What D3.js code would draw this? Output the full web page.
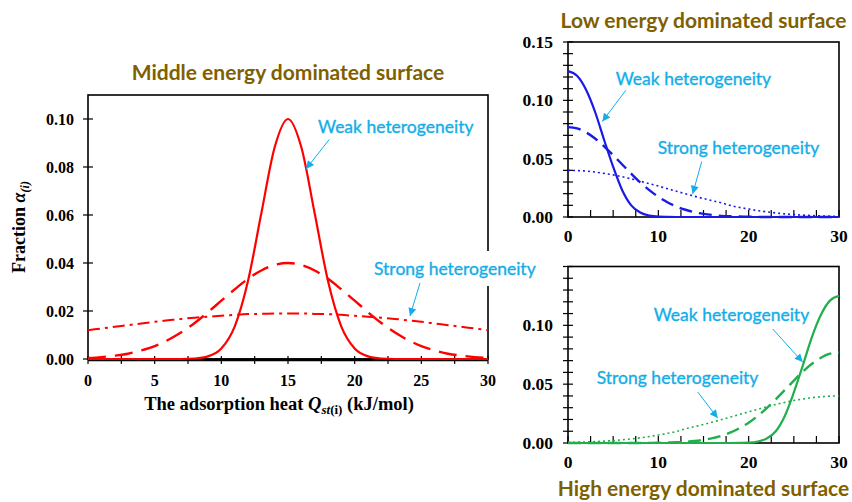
<!DOCTYPE html>
<html>
<head>
<meta charset="utf-8">
<script src="https://cdn.jsdelivr.net/npm/d3@7"></script>
<style>
  html, body { margin: 0; padding: 0; background: #fff; }
  svg { display: block; }
</style>
</head>
<body>
<svg id="chart" width="852" height="502"></svg>
<script>
// ---------------- DATA ----------------
// adsorption heat grid, kJ/mol
const heatGrid = [0,1,2,3,4,5,6,7,8,9,10,11,12,13,14,15,16,17,18,19,20,21,22,23,24,25,26,27,28,29,30];

// Middle energy dominated surface (red)
const midWeak   = [0,0,0,0,0,0,0,0,0.0002,0.0011,0.0044,0.0135,0.0325,0.0607,0.0882,0.1000,0.0882,0.0607,0.0325,0.0135,0.0044,0.0011,0.0002,0,0,0,0,0,0,0,0];
const midMedium = [0.0004,0.0008,0.0014,0.0022,0.0036,0.0054,0.0079,0.0111,0.0150,0.0195,0.0243,0.0290,0.0334,0.0369,0.0392,0.0400,0.0392,0.0369,0.0334,0.0290,0.0243,0.0195,0.0150,0.0111,0.0079,0.0054,0.0036,0.0022,0.0014,0.0008,0.0004];
const midStrong = [0.0120,0.0127,0.0134,0.0141,0.0148,0.0155,0.0161,0.0167,0.0172,0.0176,0.0180,0.0184,0.0187,0.0188,0.0190,0.0190,0.0190,0.0188,0.0187,0.0184,0.0180,0.0176,0.0172,0.0167,0.0161,0.0155,0.0148,0.0141,0.0134,0.0127,0.0120];

// Low energy dominated surface (blue)
const lowWeak   = [0.125,0.121,0.109,0.090,0.066,0.043,0.023,0.010,0.0038,0.0012,0.0003,0.0001,0,0,0,0,0,0,0,0,0,0,0,0,0,0,0,0,0,0,0];
const lowMedium = [0.0770,0.0759,0.0725,0.0673,0.0606,0.0530,0.0450,0.0371,0.0296,0.0230,0.0173,0.0127,0.0090,0.0062,0.0041,0.0027,0.0017,0.0010,0.0006,0.0004,0.0002,0.0001,0,0,0,0,0,0,0,0,0];
const lowStrong = [0.0400,0.0398,0.0393,0.0385,0.0374,0.0361,0.0345,0.0327,0.0307,0.0286,0.0265,0.0243,0.0221,0.0199,0.0178,0.0158,0.0139,0.0121,0.0098,0.0082,0.0068,0.0055,0.0044,0.0035,0.0027,0.0021,0.0016,0.0012,0.0009,0.0007,0.0005];

// High energy dominated surface (green)
const highWeak   = [0,0,0,0,0,0,0,0,0,0,0,0,0,0,0,0,0,0,0,0.0001,0.0003,0.0012,0.0038,0.010,0.023,0.043,0.066,0.090,0.109,0.121,0.125];
const highMedium = [0,0,0,0,0,0,0,0,0,0.0001,0.0002,0.0004,0.0006,0.0010,0.0017,0.0027,0.0041,0.0062,0.0090,0.0127,0.0173,0.0230,0.0296,0.0371,0.0450,0.0530,0.0606,0.0673,0.0725,0.0759,0.0770];
const highStrong = [0.0005,0.0007,0.0009,0.0012,0.0016,0.0021,0.0027,0.0035,0.0044,0.0055,0.0068,0.0082,0.0098,0.0121,0.0139,0.0158,0.0178,0.0199,0.0221,0.0243,0.0265,0.0286,0.0307,0.0327,0.0345,0.0361,0.0374,0.0385,0.0393,0.0398,0.0400];

// Tick values
const midXTicks  = [0,5,10,15,20,25,30];
const midYTicks  = [0,0.02,0.04,0.06,0.08,0.10];
const sideXTicks = [0,10,20,30];
const lowYTicks  = [0,0.05,0.10,0.15];
const highYTicks = [0,0.05,0.10];

// Texts
const titles = {
  mid: "Middle energy dominated surface",
  low: "Low energy dominated surface",
  high: "High energy dominated surface"
};
const weakLabel = "Weak heterogeneity";
const strongLabel = "Strong heterogeneity";

// ---------------- STYLE ----------------
const TITLE_COLOR = "#7f6000";
const NOTE_COLOR = "#14ade8";
const SERIF = "'Liberation Serif','Times New Roman',serif";
const SANS = "Lato,'Open Sans',sans-serif";

const svg = d3.select("#chart");
const defs = svg.append("defs");
defs.append("marker")
  .attr("id", "arrowhead")
  .attr("viewBox", "0 0 10 10")
  .attr("refX", 10).attr("refY", 5)
  .attr("markerUnits", "userSpaceOnUse")
  .attr("markerWidth", 10).attr("markerHeight", 8)
  .attr("orient", "auto")
  .append("path").attr("d", "M0,0 L10,5 L0,10 Z").attr("fill", NOTE_COLOR);

function drawPanel(cfg) {
  const g = svg.append("g");
  const x = d3.scaleLinear().domain([0, 30]).range(cfg.xRange);
  const y = d3.scaleLinear().domain(cfg.yDomain).range(cfg.yRange);
  const [x0, x1] = cfg.xRange;
  const [yb, yt] = cfg.yRange;

  // frame
  g.append("rect")
    .attr("x", x0).attr("y", yt).attr("width", x1 - x0).attr("height", yb - yt)
    .attr("fill", "none").attr("stroke", "#000").attr("stroke-width", 1.6);
  if (cfg.thickBase) {
    g.append("line").attr("x1", x0).attr("x2", x1).attr("y1", yb + 0.8).attr("y2", yb + 0.8)
      .attr("stroke", "#000").attr("stroke-width", 3);
  }

  // x ticks
  const xt = d3.range(0, 30.001, 2.5);
  g.append("g").selectAll("line").data(xt).join("line")
    .attr("x1", d => x(d)).attr("x2", d => x(d))
    .attr("y1", yb + cfg.xTickDown[0]).attr("y2", yb + cfg.xTickDown[1])
    .attr("stroke", "#000").attr("stroke-width", 1.2);
  g.append("g").selectAll("text").data(cfg.xTicks).join("text")
    .attr("x", d => x(d)).attr("y", cfg.xLabelY)
    .attr("text-anchor", "middle")
    .attr("font-family", SERIF).attr("font-weight", "bold").attr("font-size", cfg.tickFont)
    .text(d => d);

  // y ticks
  g.append("g").selectAll("line").data(cfg.yMinor).join("line")
    .attr("x1", x0 - 5).attr("x2", x0 + 5)
    .attr("y1", d => y(d)).attr("y2", d => y(d))
    .attr("stroke", "#000").attr("stroke-width", 1.2);
  g.append("g").selectAll("text").data(cfg.yTicks).join("text")
    .attr("x", cfg.yLabelX).attr("y", d => y(d)).attr("dy", "0.35em")
    .attr("text-anchor", "end")
    .attr("font-family", SERIF).attr("font-weight", "bold").attr("font-size", cfg.tickFont)
    .text(d => d3.format(".2f")(d));

  // curves
  const line = d3.line()
    .x((d, i) => x(heatGrid[i]))
    .y(d => y(d))
    .curve(d3.curveMonotoneX);
  cfg.series.forEach(s => {
    g.append("path")
      .datum(s.values)
      .attr("d", line)
      .attr("fill", "none")
      .attr("stroke", cfg.color)
      .attr("stroke-width", s.width)
      .attr("stroke-dasharray", s.dash || null)
      .attr("stroke-linecap", "butt");
  });

  // annotations
  cfg.notes.forEach(n => {
    const t = g.append("text")
      .attr("x", x(n.text[0])).attr("y", y(n.text[1]))
      .attr("font-family", SANS).attr("font-size", 17.5)
      .attr("fill", NOTE_COLOR)
      .attr("stroke", NOTE_COLOR).attr("stroke-width", 0.35)
      .text(n.label);
    if (n.bg) {
      const b = t.node().getBBox();
      g.insert("rect", () => t.node())
        .attr("x", b.x - 2).attr("y", b.y - 7)
        .attr("width", b.width + 4).attr("height", b.height + 14)
        .attr("fill", "#fff");
    }
    g.append("line")
      .attr("x1", x(n.from[0])).attr("y1", y(n.from[1]))
      .attr("x2", x(n.to[0])).attr("y2", y(n.to[1]))
      .attr("stroke", NOTE_COLOR).attr("stroke-width", 1)
      .attr("marker-end", "url(#arrowhead)");
  });

  // title
  g.append("text")
    .attr("x", (x0 + x1) / 2).attr("y", cfg.titleY)
    .attr("text-anchor", "middle")
    .attr("font-family", SANS).attr("font-weight", "bold").attr("font-size", 21)
    .attr("fill", TITLE_COLOR)
    .text(cfg.title);

  return { g, x, y };
}

// ---------- Middle energy panel ----------
drawPanel({
  xRange: [88, 488], yRange: [359, 95], yDomain: [0, 0.11],
  thickBase: true,
  xTickDown: [-3, 5], xTicks: midXTicks, xLabelY: 386,
  yTicks: midYTicks, yMinor: midYTicks, yLabelX: 74,
  tickFont: 16,
  color: "#ff0000",
  series: [
    { values: midWeak, width: 2.2 },
    { values: midMedium, width: 2.4, dash: "18,9" },
    { values: midStrong, width: 2, dash: "12,5,3,5" }
  ],
  notes: [
    { label: weakLabel, text: [17.25, 0.0942], from: [18.1, 0.0915], to: [16.35, 0.0792] },
    { label: strongLabel, text: [21.45, 0.035], from: [24.9, 0.0317], to: [24.15, 0.0179], bg: true }
  ],
  title: titles.mid, titleY: 80
});

// axis titles for middle panel
svg.append("text")
  .attr("transform", "translate(25,227) rotate(-90)")
  .attr("text-anchor", "middle")
  .attr("font-family", SERIF).attr("font-weight", "bold").attr("font-size", 18)
  .call(t => {
    t.append("tspan").text("Fraction ");
    t.append("tspan").attr("font-style", "italic").text("α");
    t.append("tspan").attr("font-style", "italic").attr("font-size", 12).attr("dy", 4).text("(i)");
  });
svg.append("text")
  .attr("x", 279).attr("y", 410)
  .attr("text-anchor", "middle")
  .attr("font-family", SERIF).attr("font-weight", "bold").attr("font-size", 18.5)
  .call(t => {
    t.append("tspan").text("The adsorption heat ");
    t.append("tspan").attr("font-style", "italic").text("Q");
    t.append("tspan").attr("font-style", "italic").attr("font-size", 13).attr("dy", 4).text("st");
    t.append("tspan").attr("font-size", 13).text("(i)");
    t.append("tspan").attr("dy", -4).text(" (kJ/mol)");
  });

// ---------- Low energy panel ----------
drawPanel({
  xRange: [568, 839], yRange: [217, 42], yDomain: [0, 0.15],
  xTickDown: [-7, 0], xTicks: sideXTicks, xLabelY: 242,
  yTicks: lowYTicks, yMinor: d3.range(0, 0.1501, 0.01), yLabelX: 553,
  tickFont: 17.5,
  color: "#1a1ae6",
  series: [
    { values: lowWeak, width: 2.2 },
    { values: lowMedium, width: 2.4, dash: "13,7" },
    { values: lowStrong, width: 1.6, dash: "2,3" }
  ],
  notes: [
    { label: weakLabel, text: [5.28, 0.1135], from: [6.4, 0.1086], to: [3.8, 0.0819] },
    { label: strongLabel, text: [9.93, 0.054], from: [14.8, 0.0474], to: [13.8, 0.0198] }
  ],
  title: titles.low, titleY: 28
});

// ---------- High energy panel ----------
drawPanel({
  xRange: [568, 839], yRange: [443, 266.5], yDomain: [0, 0.15],
  xTickDown: [-7, 0], xTicks: sideXTicks, xLabelY: 468,
  yTicks: highYTicks, yMinor: d3.range(0, 0.1501, 0.01), yLabelX: 553,
  tickFont: 17.5,
  color: "#1fb04c",
  series: [
    { values: highWeak, width: 2.2 },
    { values: highMedium, width: 2.4, dash: "13,7" },
    { values: highStrong, width: 1.6, dash: "2,3" }
  ],
  notes: [
    { label: weakLabel, text: [9.49, 0.1037], from: [22.66, 0.0969], to: [25.98, 0.0688] },
    { label: strongLabel, text: [3.18, 0.0501], from: [14.36, 0.0433], to: [16.57, 0.0212] }
  ],
  title: titles.high, titleY: 496
});
</script>
</body>
</html>
